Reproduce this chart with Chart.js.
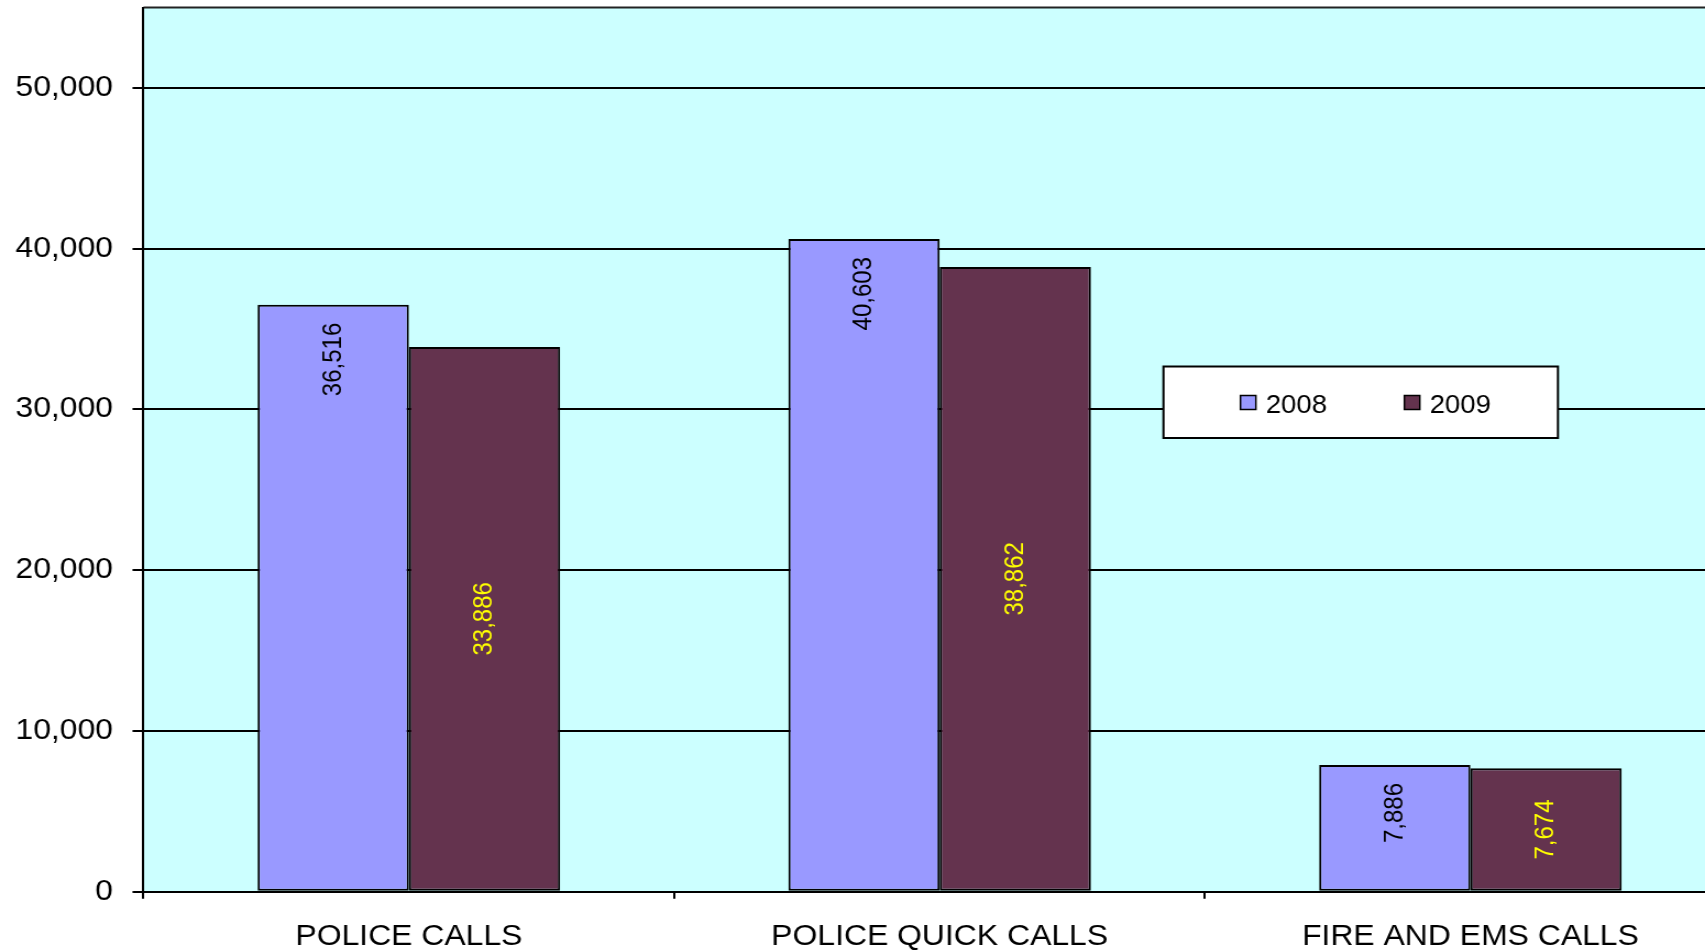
<!DOCTYPE html>
<html>
<head>
<meta charset="utf-8">
<script src="https://cdn.jsdelivr.net/npm/chart.js@4.4.1/dist/chart.umd.min.js"></script>
<style>
	html, body { margin: 0; padding: 0; background: #ffffff; overflow: hidden; }
	/* the original picture is a little stretched sideways */
	#wrap { width: 1578px; height: 952px; transform: scaleX(1.1); transform-origin: 0 0; }
</style>
</head>
<body>
<div id="wrap"><canvas id="myChart" width="1578" height="952"></canvas></div>
<script>
// values
const categories = ['POLICE CALLS', 'POLICE QUICK CALLS', 'FIRE AND EMS CALLS'];
const seriesNames = ['2008', '2009'];
const calls2008 = [36516, 40603, 7886];
const calls2009 = [33886, 38862, 7674];
const yTicks = [0, 10000, 20000, 30000, 40000, 50000];

const FONT = "'Liberation Sans', Arial, sans-serif";

function fmt(v){
	return v.toLocaleString('en-US')
}

// cyan plot area with a line along its top
const plotBackground = {
	id: 'plotBackground',
	beforeDraw(chart) {
		const {ctx, chartArea} = chart;
		ctx.save();
		ctx.fillStyle = '#CCFFFF';
		ctx.fillRect(chartArea.left, chartArea.top, chartArea.right - chartArea.left, chartArea.bottom - chartArea.top);
		ctx.strokeStyle = '#222222';
		ctx.lineWidth = 2;
		ctx.beginPath();
		ctx.moveTo(chartArea.left, chartArea.top);
		ctx.lineTo(chartArea.right, chartArea.top);
		ctx.stroke();
		ctx.restore();
	}
};

// rotated value labels inside the bars
const barLabels = {
	id: 'barLabels',
	afterDatasetsDraw(chart) {
		const ctx = chart.ctx;
		chart.data.datasets.forEach((ds, i) => {
			const meta = chart.getDatasetMeta(i);
			meta.data.forEach((bar, j) => {
				const txt = fmt(ds.data[j]);
				ctx.save();
				ctx.font = '24px ' + FONT;
				ctx.fillStyle = ds.labelColor;
				ctx.textBaseline = 'middle';
				if (ds.labelAnchor === 'end') {
					ctx.translate(bar.x, bar.y + 18);
					ctx.rotate(-Math.PI / 2);
					ctx.textAlign = 'right';
				} else {
					ctx.translate(bar.x, (bar.y + bar.base) / 2);
					ctx.rotate(-Math.PI / 2);
					ctx.textAlign = 'center';
				}
				ctx.fillText(txt, 0, 0);
				ctx.restore();
			});
		});
	}
};

// boxed legend sitting inside the plot
const boxLegend = {
	id: 'boxLegend',
	afterDraw(chart) {
		const ctx = chart.ctx;
		const bx = 1057.7, by = 366.5, bw = 358.6, bh = 71.5;
		ctx.save();
		ctx.fillStyle = '#ffffff';
		ctx.fillRect(bx, by, bw, bh);
		ctx.strokeStyle = '#000000';
		ctx.lineWidth = 2;
		ctx.strokeRect(bx, by, bw, bh);
		ctx.font = '25px ' + FONT;
		ctx.textBaseline = 'middle';
		ctx.textAlign = 'left';
		chart.data.datasets.forEach((ds, i) => {
			const x = bx + 70 + i * 149;
			const cy = by + 36;
			ctx.fillStyle = ds.backgroundColor;
			ctx.fillRect(x, cy - 7, 14, 14);
			ctx.lineWidth = 1.5;
			ctx.strokeRect(x, cy - 7, 14, 14);
			ctx.fillStyle = '#000000';
			ctx.fillText(ds.label, x + 23, cy + 4);
		});
		ctx.restore();
	}
};

const ctx = document.getElementById('myChart').getContext('2d');
const myChart = new Chart(ctx, {
	type: 'bar',
	data: {
		labels: categories,
		datasets: [{
			label: seriesNames[0],
			data: calls2008,
			backgroundColor: '#9999FF',
			borderColor: '#000000',
			borderWidth: 2,
			borderSkipped: false,
			labelColor: '#000000',
			labelAnchor: 'end'
		}, {
			label: seriesNames[1],
			data: calls2009,
			backgroundColor: '#64334E',
			borderColor: '#000000',
			borderWidth: 2,
			borderSkipped: false,
			labelColor: '#FFFF00',
			labelAnchor: 'center'
		}]
	},
	options: {
		responsive: false,
		animation: false,
		devicePixelRatio: 1,
		categoryPercentage: 0.57,
		barPercentage: 1.0,
		layout: { padding: { top: 7.6, left: 0, right: 0, bottom: 0 } },
		plugins: {
			legend: { display: false },
			tooltip: { enabled: false }
		},
		scales: {
			x: {
				grid: {
					offset: true,
					drawOnChartArea: false,
					drawTicks: true,
					tickLength: 7,
					color: '#000000',
					lineWidth: 2
				},
				border: { color: '#000000', width: 2 },
				ticks: {
					color: '#000000',
					font: { family: FONT, size: 29 },
					padding: 21,
					maxRotation: 0
				},
				afterFit(scale) {
					scale.height = 60.3;
					scale.paddingLeft = 0;
					scale.paddingRight = 0;
				}
			},
			y: {
				min: 0,
				max: 55000,
				grid: {
					color: '#000000',
					lineWidth: 2,
					tickLength: 10
				},
				border: { color: '#000000', width: 2 },
				ticks: {
					stepSize: 10000,
					includeBounds: false,
					color: '#000000',
					font: { family: FONT, size: 29 },
					padding: 17.7,
					callback: (v) => fmt(v)
				},
				afterBuildTicks(scale) {
					scale.ticks = yTicks.map(v => ({ value: v }));
				},
				afterFit(scale) {
					scale.width = 130.45;
					scale.paddingTop = 0;
					scale.paddingBottom = 0;
				}
			}
		}
	},
	plugins: [plotBackground, barLabels, boxLegend]
});
</script>
</body>
</html>
